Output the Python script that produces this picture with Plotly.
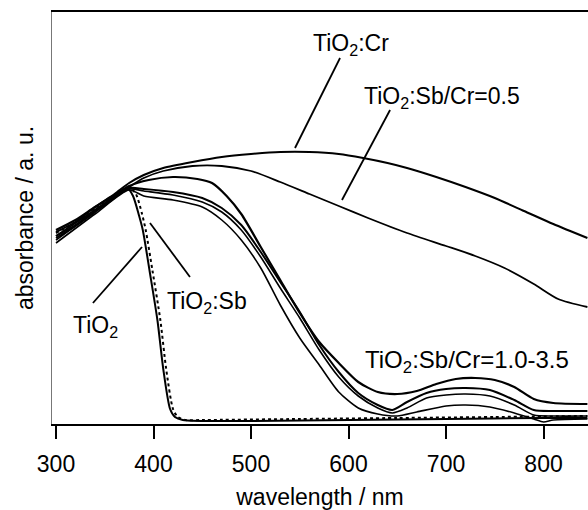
import plotly.graph_objects as go

# wavelengths (nm) and absorbance (a.u.)
cr_nm = [300,320,340,360,375,390,410,440,470,500,530,560,590,615,640,660,690,720,750,780,810,845]
cr_abs = [1.92,2.02,2.17,2.30,2.41,2.49,2.56,2.62,2.67,2.70,2.72,2.72,2.70,2.66,2.61,2.56,2.47,2.37,2.26,2.13,2.00,1.86]

r05_nm = [300,320,340,360,375,390,410,440,470,500,530,560,590,620,660,700,730,760,790,815,845]
r05_abs = [1.88,1.99,2.14,2.27,2.37,2.46,2.53,2.58,2.58,2.53,2.42,2.30,2.18,2.06,1.91,1.78,1.68,1.56,1.40,1.25,1.17]

ra_nm = [300,320,340,360,375,395,420,445,460,475,490,510,530,550,570,590,610,630,650,670,690,710,730,750,770,790,810,845]
ra_abs = [1.94,2.04,2.17,2.29,2.38,2.44,2.47,2.45,2.41,2.28,2.10,1.77,1.44,1.11,0.82,0.61,0.42,0.32,0.30,0.33,0.40,0.45,0.46,0.44,0.37,0.25,0.21,0.20]

rb_nm = [300,340,375,390,420,450,470,490,510,530,550,570,590,610,630,645,660,680,700,720,745,770,790,810,845]
rb_abs = [1.88,2.14,2.36,2.35,2.32,2.26,2.16,1.99,1.72,1.42,1.12,0.79,0.52,0.31,0.19,0.14,0.22,0.31,0.35,0.36,0.34,0.24,0.14,0.13,0.13]
rb2_abs = [1.84,2.12,2.35,2.33,2.29,2.22,2.12,1.94,1.67,1.36,1.06,0.74,0.47,0.28,0.16,0.11,0.16,0.26,0.29,0.30,0.28,0.19,0.09,0.08,0.08]

rc_nm = [300,340,375,390,420,450,470,490,510,530,550,570,590,610,630,650,670,700,720,745,770,790,800,810,845]
rc_abs = [1.81,2.10,2.34,2.28,2.24,2.17,2.04,1.84,1.56,1.19,0.86,0.59,0.32,0.16,0.10,0.08,0.12,0.18,0.19,0.17,0.11,0.05,0.02,0.04,0.05]

ti_nm = [300,320,340,360,368,374,379,385,389,396,404,410,417,422,430,500,600,700,800,845]
ti_abs = [1.86,1.98,2.12,2.26,2.33,2.35,2.28,2.09,1.94,1.53,1.04,0.55,0.15,0.07,0.04,0.03,0.04,0.05,0.06,0.06]

sb_nm = [300,320,340,360,370,376,382,388,392,399,407,413,420,425,433,450,550,650,750,845]
sb_abs = [1.91,2.02,2.16,2.28,2.34,2.36,2.30,2.11,1.94,1.53,1.04,0.55,0.15,0.07,0.04,0.04,0.05,0.06,0.07,0.08]

fig = go.Figure()

def add(x, y, dash="solid", w=2.0):
    fig.add_trace(go.Scatter(x=x, y=y, mode="lines",
                             line=dict(color="black", width=w, dash=dash, shape="spline", smoothing=0.7),
                             showlegend=False, hoverinfo="skip"))

add(cr_nm, cr_abs)
add(r05_nm, r05_abs, w=1.8)
add(ra_nm, ra_abs, w=2.2)
add(rb_nm, rb_abs)
add(rb_nm, rb2_abs, w=1.6)
add(rc_nm, rc_abs, w=1.6)
add(ti_nm, ti_abs)
add(sb_nm, sb_abs, dash="dot")

# label pointer lines (nm, absorbance)
pointers = [
    (591.3, 3.66, 545.1, 2.76),
    (642.6, 3.14, 593.3, 2.24),
    (337.9, 1.21, 388.2, 1.77),
    (396.4, 2.01, 437.4, 1.47),
]
for x0, y0, x1, y1 in pointers:
    fig.add_shape(type="line", x0=x0, y0=y0, x1=x1, y1=y1, xref="x", yref="y",
                  line=dict(color="black", width=1.8))

labels = [
    ("TiO<sub>2</sub>:Cr", 603, 3.80, 23),
    ("TiO<sub>2</sub>:Sb/Cr=0.5", 696, 3.27, 23),
    ("TiO<sub>2</sub>", 340, 0.98, 23),
    ("TiO<sub>2</sub>:Sb", 455, 1.22, 23),
    ("TiO<sub>2</sub>:Sb/Cr=1.0-3.5", 721.5, 0.63, 24),
]
for t, x, y, s in labels:
    fig.add_annotation(text=t, x=x, y=y, xref="x", yref="y", showarrow=False,
                       font=dict(size=s, color="black"))

fig.update_layout(
    width=588, height=510,
    margin=dict(l=52, r=0, t=12, b=86),
    paper_bgcolor="white", plot_bgcolor="white",
    font=dict(family="Liberation Sans, Arial, sans-serif", size=23, color="black"),
    xaxis=dict(range=[295.9, 845.6], tickvals=[300, 400, 500, 600, 700, 800],
               ticks="outside", ticklen=13, tickwidth=1.5, tickcolor="black",
               ticklabelstandoff=5,
               showline=True, linecolor="black", linewidth=2, mirror=True,
               showgrid=False, zeroline=False,
               title=dict(text="wavelength / nm", font=dict(size=23), standoff=14),
               tickfont=dict(size=23)),
    yaxis=dict(range=[0, 4.12], showticklabels=False, ticks="",
               showline=True, linecolor="#777777", linewidth=1.2,
               showgrid=False, zeroline=False,
               title=dict(text="absorbance / a. u.", font=dict(size=23), standoff=10)),
)

fig.write_html("out.html")
